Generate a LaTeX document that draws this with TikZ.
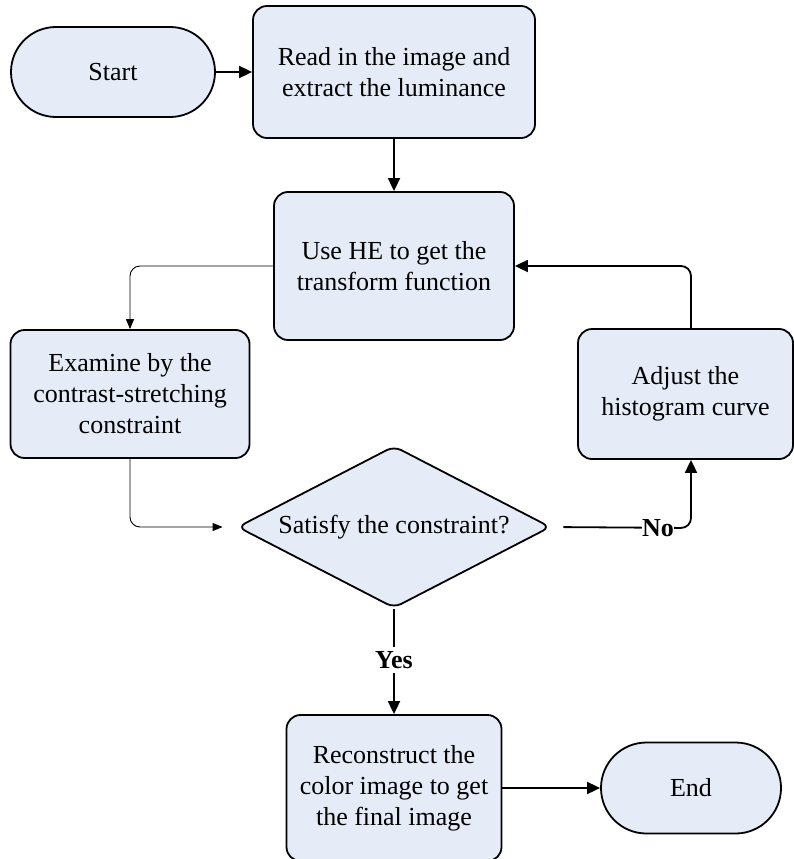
\documentclass[tikz,border=0pt]{standalone}
\usepackage{fontspec}
\setmainfont{Liberation Serif}
\usetikzlibrary{shapes.geometric,arrows.meta,calc}
\definecolor{boxfill}{RGB}{230,236,247}
\begin{document}
\begin{tikzpicture}[x=1pt,y=-1pt,
  every node/.style={font=\fontsize{26}{31}\selectfont},
  box/.style={draw,line width=1.8pt,fill=boxfill,rounded corners=14pt,align=center,inner sep=0pt},
  term/.style={draw,line width=1.8pt,fill=boxfill,align=center,inner sep=0pt},
  thk/.style={line width=1.8pt,-{Triangle[length=13pt,width=12pt]}},
  thn/.style={line width=0.9pt,-{Triangle[length=10pt,width=8pt]},rounded corners=10pt},
  lbl/.style={font=\fontsize{26}{31}\selectfont\bfseries,fill=white,inner xsep=0.5pt,inner ysep=4pt}]
\useasboundingbox (0,0) rectangle (794,859);

\node[term,rounded corners=44.9pt,minimum width=204pt,minimum height=90pt] (start) at (113,72) {Start};
\node[box,minimum width=282pt,minimum height=132pt] (read) at (394,72) {Read in the image and\\extract the luminance};
\node[box,minimum width=240pt,minimum height=148pt] (he) at (394,266) {Use HE to get the\\transform function};
\node[box,minimum width=239pt,minimum height=128pt] (examine) at (130,394) {Examine by the\\contrast-stretching\\constraint};
\node[box,minimum width=215pt,minimum height=130pt] (adjust) at (685.5,394) {Adjust the\\histogram curve};
\node[draw,line width=1.8pt,fill=boxfill,diamond,aspect=1.93,inner sep=0pt,rounded corners=8pt,
      minimum width=313pt,minimum height=162pt] (dia) at (394,527) {Satisfy the constraint?};
\node[box,minimum width=215pt,minimum height=146pt] (recon) at (394,788) {Reconstruct the\\color image to get\\the final image};
\node[term,rounded corners=45.4pt,minimum width=180pt,minimum height=91pt] (end) at (691,788) {End};

\coordinate (nocorner) at (691,528);

\draw[thk] (start.east) -- (read.west);
\draw[thk] (read.south) -- (he.north);
\draw[thn] (he.west) -- (examine.north |- he.west) -- (examine.north);
\draw[thn,shorten >=14pt] (examine.south) -- (examine.south |- dia.west) -- (dia.west);
\draw[thk,shorten <=12pt,rounded corners=10pt] (dia.east) -- (nocorner) -- (nocorner |- adjust.south);
\draw[thk,rounded corners=10pt] (adjust.north -| nocorner) -- (nocorner |- he.east) -- (he.east);
\draw[thk] (dia.south) -- (recon.north);
\draw[thk] (recon.east) -- (end.west);

\node[lbl] (nolbl) at (658,528) {No};
\node[lbl] (yeslbl) at (394,660) {Yes};
\end{tikzpicture}
\end{document}
